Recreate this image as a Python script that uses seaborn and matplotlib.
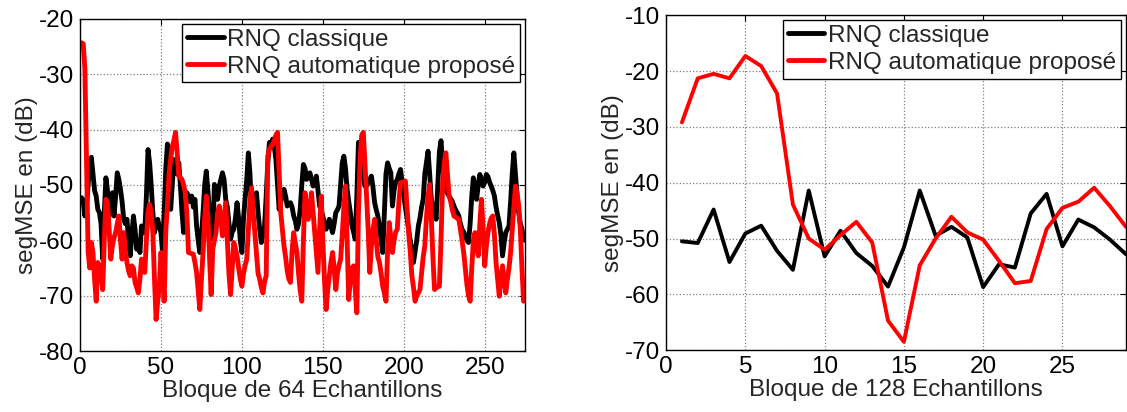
import numpy as np
import pandas as pd
import matplotlib
matplotlib.use("Agg")
import matplotlib.pyplot as plt
import seaborn as sns

# ---------------- data ----------------
left_classique = [
    -52.3, -53, -55.6, -54, -50, -46, -45, -48, -51, -52,
    -54.4, -55, -57, -63.4, -55, -48.7, -51, -55.6, -53, -51.4,
    -55.6, -52, -47.8, -49, -50.8, -53, -56.2, -57, -56.2, -60,
    -62.8, -59, -55.6, -58, -61.6, -60, -62.2, -57.4, -58, -58.6,
    -52, -43.6, -46, -50.2, -55, -58.6, -57, -56.2, -57.5, -58.6,
    -62.2, -55, -47, -42.6, -46, -54.4, -50, -45.4, -46.5, -48,
    -46, -50, -55, -58.6, -54, -51.4, -52, -53, -52, -54,
    -52.6, -57.4, -60, -62.2, -59.2, -55, -50, -47.5, -51, -55,
    -57, -59.8, -49.9, -51, -52.6, -50.2, -49, -47.8, -49, -52.6,
    -54, -57, -59.8, -58.5, -58, -56, -53.2, -56, -60, -62.2,
    -56, -52.6, -49, -44.2, -48, -55, -53, -52, -51.4, -55,
    -58, -60.4, -59, -57.4, -52, -46, -42.3, -43, -41.7, -43,
    -45.4, -50, -54.4, -53, -52, -50.8, -52, -53.8, -53.5, -53.2,
    -54, -55.6, -56.5, -58, -57, -54.4, -50, -46.3, -47, -49,
    -48.5, -47.8, -49, -50.2, -49.5, -48.4, -51, -53.8, -54.5, -55.6,
    -57, -58, -57, -56.2, -57.5, -58.6, -57, -55, -54.5, -53.8,
    -50, -46, -44.8, -47, -50.8, -53, -55, -57.4, -58.5, -59.8,
    -52, -42.3, -44, -45.4, -48, -50.2, -50.2, -49.5, -49, -48.4,
    -50.5, -53.2, -54.5, -55.6, -57.5, -60, -62.2, -55, -48, -46,
    -47, -47.8, -53.8, -51, -49.5, -49, -48, -47.2, -49.5, -52,
    -54, -56, -58, -60, -62, -64, -62, -60, -57.4, -56,
    -54, -52.6, -48, -46, -43.9, -48, -52.6, -54, -55, -56.2,
    -50, -44, -42, -46, -50.2, -51, -51.5, -52, -52.5, -53,
    -53.8, -54.5, -55, -55.6, -57, -58, -58.5, -59.2, -60, -60.4,
    -57, -52, -48.7, -50.5, -52.6, -50, -48.1, -49, -50.2, -49.5,
    -48.1, -48.5, -49.5, -50.2, -51, -52, -54, -55.5, -56.8, -59,
    -62.8, -60.5, -58.6, -58, -57.4, -53, -48, -44.2, -48, -52,
    -55, -57, -58, -59.8, -60,
]
left_auto = [
    -24.3, -24.5, -29, -45, -62, -65, -60.4, -62.2, -67, -71,
    -64, -64.6, -66, -68.9, -60, -52.6, -53.2, -58, -63.4, -61,
    -59.5, -58.6, -57, -55.6, -60, -63.4, -58.6, -62, -64, -65.5,
    -66.4, -64.6, -65, -67.6, -68.5, -69.5, -67, -63.4, -64.5, -65.8,
    -60, -55, -53.5, -55, -58.6, -67, -74.3, -71, -68.3, -62.2,
    -66, -71, -58, -53.8, -48, -45.4, -43, -42, -40.5, -44,
    -48.4, -48.7, -49, -50, -51.4, -55, -62.2, -62.3, -62.4, -62.5,
    -64, -65.8, -69, -72.5, -67, -62.2, -56, -52, -55.6, -63,
    -69.8, -61.6, -60, -58.6, -55, -53.8, -56, -59.2, -56, -53.2,
    -60, -66, -69.8, -65, -60.4, -61.5, -62.8, -65, -67, -68.3,
    -66, -64.5, -63.4, -58, -53, -50.5, -55, -58.6, -62, -66,
    -67, -68.5, -69.5, -67.5, -66.4, -44.8, -43.5, -43, -42.7, -42,
    -41, -40.5, -48, -55, -58, -61, -63, -65.5, -67, -67.6,
    -62, -58.6, -60.5, -62.2, -66, -69, -71, -60, -51.4, -54,
    -56.2, -54, -51.4, -55, -58.6, -62, -65.8, -58, -52, -60,
    -67, -72.5, -69, -66.4, -64, -62.2, -65, -68.9, -66, -64.5,
    -63.4, -59, -54, -50.2, -60, -70.7, -67, -65, -64.6, -69,
    -73.1, -55, -45.4, -41, -40.5, -46, -52, -58, -65.8, -61,
    -58, -56.2, -60, -63, -64, -66, -68.3, -69.5, -71, -62,
    -56.8, -59.5, -62.2, -60, -58.5, -58, -53, -49.6, -49.5, -49.4,
    -49.3, -54, -58.6, -62, -66.4, -68.5, -71, -70, -69.5, -68.9,
    -66, -63, -61, -56, -52, -49.9, -56, -63, -68.9, -68.6,
    -68.4, -68.3, -60, -49.6, -46, -44.2, -48, -52, -53, -54.5,
    -55.6, -55.8, -56, -56.2, -58, -60, -62.2, -65, -68, -70,
    -71, -65, -60, -58.6, -61, -62.8, -57, -52.6, -58, -64.6,
    -61, -58.6, -57, -56, -55.6, -59, -64, -67, -70.1, -67,
    -64.6, -67, -69.5, -67, -65, -62.2, -58, -54, -50.2, -51.5,
    -53.8, -58, -65, -71, -68,
]

right_classique = [
    -50.5, -50.8, -44.8, -54.2, -49.1, -47.7, -52.2, -55.6, -41.4, -53.2,
    -48.6, -52.6, -54.9, -58.6, -51.6, -41.4, -49.5, -47.9, -49.8, -58.7,
    -54.6, -55.2, -45.5, -42.0, -51.4, -46.6, -48.0, -50.2, -52.8,
]
right_auto = [
    -29.2, -21.3, -20.5, -21.3, -17.3, -19.1, -24.0, -43.9, -50.0, -52.0,
    -49.4, -47.0, -50.7, -64.7, -68.5, -54.8, -50.0, -46.1, -48.9, -50.2,
    -54.0, -58.0, -57.6, -48.3, -44.5, -43.4, -40.9, -44.2, -47.9,
]

labels = ["RNQ classique", "RNQ automatique proposé"]
left_xlabel = "Bloque de 64 Echantillons"
right_xlabel = "Bloque de 128 Echantillons"
ylabel = "segMSE en (dB)"

left_xticks = [0, 50, 100, 150, 200, 250]
left_yticks = [-80, -70, -60, -50, -40, -30, -20]
right_xticks = [0, 5, 10, 15, 20, 25]
right_yticks = [-70, -60, -50, -40, -30, -20, -10]

# ---------------- build frames ----------------
def make_df(a, b):
    n = len(a)
    x = np.arange(1, n + 1)
    return pd.DataFrame({
        "x": np.concatenate([x, x]),
        "y": np.concatenate([a, b]),
        "serie": [labels[0]] * n + [labels[1]] * n,
    })

df_left = make_df(left_classique, left_auto)
df_right = make_df(right_classique, right_auto)

sns.set_style("white")
plt.rcParams["font.family"] = ["Liberation Sans", "DejaVu Sans"]
plt.rcParams["axes.unicode_minus"] = False

FS = 17.5

fig = plt.figure(figsize=(11.27, 4.12), dpi=100)
ax1 = fig.add_axes([0.071, 0.148, 0.395, 0.806])
ax2 = fig.add_axes([0.591, 0.150, 0.408, 0.813])

palette = {labels[0]: "black", labels[1]: "#ff0000"}

sns.lineplot(data=df_left, x="x", y="y", hue="serie", palette=palette,
             linewidth=3.5, ax=ax1, legend=True)
sns.lineplot(data=df_right, x="x", y="y", hue="serie", palette=palette,
             linewidth=2.8, ax=ax2, legend=True)

def style(ax, xlim, ylim, xt, yt, xlabel):
    ax.set_xlim(*xlim)
    ax.set_ylim(*ylim)
    ax.set_xticks(xt)
    ax.set_yticks(yt)
    ax.set_xlabel(xlabel, fontsize=FS, labelpad=1)
    ax.set_ylabel(ylabel, fontsize=FS, labelpad=1)
    ax.tick_params(direction="in", length=4, width=0.8, top=True, right=True,
                   labelsize=FS, colors="black")
    ax.tick_params(axis="x", pad=4)
    ax.tick_params(axis="y", pad=4)
    ax.grid(True, linestyle=":", color="#7f7f7f", linewidth=0.9)
    for s in ax.spines.values():
        s.set_color("black")
        s.set_linewidth(1.0)
        s.set_visible(True)
    leg = ax.legend(loc="upper right", fontsize=FS, frameon=True, fancybox=False,
                    borderaxespad=0.2, handlelength=1.5, handletextpad=0.15,
                    labelspacing=0.2, borderpad=0.2)
    leg.get_frame().set_edgecolor("black")
    leg.get_frame().set_linewidth(1.0)
    leg.get_frame().set_alpha(1.0)
    for h in leg.get_lines():
        h.set_linewidth(3.5)

style(ax1, (0, 275), (-80, -20), left_xticks, left_yticks, left_xlabel)
style(ax2, (0, 29), (-70, -10), right_xticks, right_yticks, right_xlabel)

fig.savefig("out.png", dpi=100)
